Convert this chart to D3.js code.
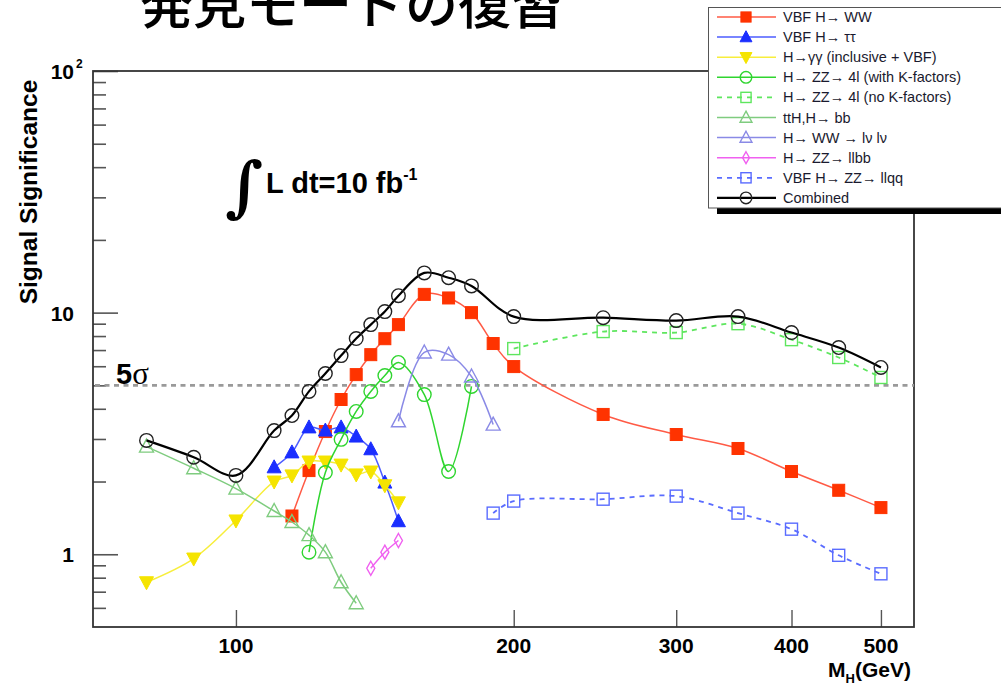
<!DOCTYPE html>
<html>
<head>
<meta charset="utf-8">
<script src="https://cdn.jsdelivr.net/npm/d3@7"></script>
<style>
  html, body { margin: 0; padding: 0; background: #fff; }
  svg { display: block; }
</style>
</head>
<body>
<svg id="chart" width="1001" height="688"></svg>
<script>
// Higgs discovery significance vs. mass, 10 fb^-1
const massVbfWW   = [115,120,125,130,135,140,145,150,160,170,180,190,200,250,300,350,400,450,500];
const sigVbfWW    = [1.44,2.22,3.22,4.37,5.54,6.70,7.80,8.92,11.9,11.5,10.0,7.45,5.98,3.79,3.13,2.74,2.20,1.84,1.56];

const massVbfTauTau = [110,115,120,125,130,135,140,145,150];
const sigVbfTauTau  = [2.29,2.64,3.35,3.25,3.35,3.07,2.72,1.98,1.37];

const massGamGam  = [80,90,100,110,115,120,125,130,135,140,145,150];
const sigGamGam   = [0.766,0.96,1.38,2.00,2.12,2.42,2.42,2.35,2.14,2.20,1.93,1.64];

const massZZ4lK   = [120,125,130,135,140,145,150,160,170,180];
const sigZZ4lK    = [1.02,2.18,2.99,3.90,4.72,5.49,6.22,4.58,2.20,4.95];

const massZZ4lNoK = [200,250,300,350,400,450,500];
const sigZZ4lNoK  = [7.10,8.35,8.27,9.00,7.73,6.52,5.39];

const massTtHbb   = [80,90,100,110,115,120,125,130,135];
const sigTtHbb    = [2.79,2.27,1.87,1.51,1.36,1.20,1.02,0.766,0.627];

const massWWlvlv  = [150,160,170,180,190];
const sigWWlvlv   = [3.55,6.84,6.70,5.44,3.44];

const massZZllbb  = [140,145,150];
const sigZZllbb   = [0.875,1.02,1.14];

const massZZllqq  = [190,200,250,300,350,400,450,500];
const sigZZllqq   = [1.48,1.66,1.69,1.74,1.48,1.27,0.99,0.83];

const massCombined = [80,90,100,110,115,120,125,130,135,140,145,150,160,170,180,200,250,300,350,400,450,500];
const sigCombined  = [2.96,2.52,2.12,3.25,3.75,4.72,5.60,6.64,7.81,8.92,10.1,11.75,14.6,13.95,12.9,9.63,9.53,9.27,9.63,8.27,7.17,5.93];

const xTickValues = [100,200,300,400,500];
const yMajorTicks = [1,10,100];
const yMinorTicks = [0.6,0.7,0.8,0.9,2,3,4,5,6,7,8,9,20,30,40,50,60,70,80,90];
const fiveSigma = 5;

const seriesNames = [
  "VBF H\u2192 WW",
  "VBF H\u2192 \u03c4\u03c4",
  "H\u2192\u03b3\u03b3 (inclusive + VBF)",
  "H\u2192 ZZ\u2192 4l (with K-factors)",
  "H\u2192 ZZ\u2192 4l (no K-factors)",
  "ttH,H\u2192 bb",
  "H\u2192 WW \u2192 l\u03bd l\u03bd",
  "H\u2192 ZZ\u2192 llbb",
  "VBF H\u2192 ZZ\u2192 llqq",
  "Combined"
];

// per-series styling
const series = [
  {mass: massVbfWW,     sig: sigVbfWW,     line: "#ff5a45", mark: "#ff3300", shape: "square",  filled: true,  dash: null, lw: 1.5},
  {mass: massVbfTauTau, sig: sigVbfTauTau, line: "#4d5cff", mark: "#1a2eff", shape: "triUp",   filled: true,  dash: null, lw: 1.5},
  {mass: massGamGam,    sig: sigGamGam,    line: "#f7ee3c", mark: "#f5e400", shape: "triDown", filled: true,  dash: null, lw: 1.5},
  {mass: massZZ4lK,     sig: sigZZ4lK,     line: "#2fd52f", mark: "#2fd52f", shape: "circle",  filled: false, dash: null, lw: 1.5},
  {mass: massZZ4lNoK,   sig: sigZZ4lNoK,   line: "#5ee65e", mark: "#5ee65e", shape: "square",  filled: false, dash: "5,5", lw: 1.8},
  {mass: massTtHbb,     sig: sigTtHbb,     line: "#7fcc7f", mark: "#7fcc7f", shape: "triUp",   filled: false, dash: null, lw: 1.5},
  {mass: massWWlvlv,    sig: sigWWlvlv,    line: "#8a8ae6", mark: "#8a8ae6", shape: "triUp",   filled: false, dash: null, lw: 1.5},
  {mass: massZZllbb,    sig: sigZZllbb,    line: "#f060f0", mark: "#f060f0", shape: "diamond", filled: false, dash: null, lw: 1.5},
  {mass: massZZllqq,    sig: sigZZllqq,    line: "#5a6cff", mark: "#5a6cff", shape: "square",  filled: false, dash: "5,5", lw: 1.8},
  {mass: massCombined,  sig: sigCombined,  line: "#000000", mark: "#222222", shape: "circle",  filled: false, dash: null, lw: 2.2}
];

const svg = d3.select("#chart");
const W = 1001, H = 688;
const plot = {left: 93, right: 914, top: 71, bottom: 627};

const x = d3.scaleLog().domain([70, 543]).range([plot.left, plot.right]);
const y = d3.scaleLog().domain([0.5, 100]).range([plot.bottom, plot.top]);

svg.append("rect").attr("width", W).attr("height", H).attr("fill", "#fff");

// page title (partly above the top edge)
svg.append("text")
  .attr("x", 140).attr("y", 24)
  .attr("font-family", "'Noto Sans CJK JP', 'Noto Sans CJK SC', sans-serif")
  .attr("font-size", 53).attr("font-weight", 500)
  .attr("fill", "#000")
  .text("発見モードの復習");

// clip for data
svg.append("defs").append("clipPath").attr("id", "plotClip")
  .append("rect").attr("x", plot.left).attr("y", plot.top)
  .attr("width", plot.right - plot.left).attr("height", plot.bottom - plot.top);

// y axis ticks (drawn inward)
svg.append("g").attr("transform", `translate(${plot.left},0)`)
  .call(d3.axisLeft(y).tickValues(yMinorTicks).tickSize(-13).tickFormat(""))
  .call(g => g.select(".domain").remove())
  .call(g => g.selectAll("line").attr("stroke", "#555").attr("stroke-width", 1.6));
svg.append("g").attr("transform", `translate(${plot.left},0)`)
  .call(d3.axisLeft(y).tickValues(yMajorTicks).tickSize(-25).tickFormat(""))
  .call(g => g.select(".domain").remove())
  .call(g => g.selectAll("line").attr("stroke", "#555").attr("stroke-width", 1.6));

// x axis ticks (drawn inward)
svg.append("g").attr("transform", `translate(0,${plot.bottom})`)
  .call(d3.axisBottom(x).tickValues(xTickValues).tickSize(-17).tickFormat(""))
  .call(g => g.select(".domain").remove())
  .call(g => g.selectAll("line").attr("stroke", "#555").attr("stroke-width", 1.4));

// frame
svg.append("rect")
  .attr("x", plot.left).attr("y", plot.top)
  .attr("width", plot.right - plot.left).attr("height", plot.bottom - plot.top)
  .attr("fill", "none").attr("stroke", "#333").attr("stroke-width", 1.8);

// tick labels
const labelFont = "'Liberation Sans', Arial, Helvetica, sans-serif";
svg.append("g").selectAll("text").data(xTickValues).join("text")
  .attr("x", d => x(d)).attr("y", 653)
  .attr("text-anchor", "middle")
  .attr("font-family", labelFont).attr("font-size", 21).attr("font-weight", "bold")
  .text(d => d);

const yLab = svg.append("g").attr("font-family", labelFont).attr("font-weight", "bold").attr("font-size", 21);
yMajorTicks.forEach(v => {
  const t = yLab.append("text").attr("x", 74).attr("y", y(v) + 8).attr("text-anchor", "end");
  if (v === 100) {
    t.text("10");
    yLab.append("text").attr("x", 76).attr("y", y(v) - 3).attr("font-size", 12).text("2");
  } else {
    t.text(String(v));
  }
});

// axis titles
svg.append("text")
  .attr("transform", `translate(37,${(plot.top + 313) / 2}) rotate(-90)`)
  .attr("text-anchor", "middle")
  .attr("font-family", labelFont).attr("font-size", 24.5).attr("font-weight", "bold")
  .text("Signal Significance");

const xt = svg.append("text")
  .attr("x", 911).attr("y", 677).attr("text-anchor", "end")
  .attr("font-family", labelFont).attr("font-size", 21).attr("font-weight", "bold");
xt.append("tspan").text("M");
xt.append("tspan").attr("font-size", 13).attr("dy", 6).text("H");
xt.append("tspan").attr("dy", -6).text("(GeV)");

// 5 sigma reference line
svg.append("line")
  .attr("x1", plot.left + 2).attr("x2", plot.right)
  .attr("y1", y(fiveSigma)).attr("y2", y(fiveSigma))
  .attr("stroke", "#9a9a9a").attr("stroke-width", 2.6).attr("stroke-dasharray", "5,4.5");
const sig5 = svg.append("text").attr("x", 116).attr("y", y(fiveSigma) - 1)
  .attr("font-size", 29).attr("font-weight", "bold");
sig5.append("tspan").attr("font-family", labelFont).text("5");
sig5.append("tspan").attr("font-family", "'Liberation Serif', 'DejaVu Serif', serif").attr("font-weight", "normal").attr("font-size", 31).text("\u03c3");

// luminosity label
svg.append("text").attr("x", 225).attr("y", 209)
  .attr("font-family", "'DejaVu Serif', serif").attr("font-size", 66).attr("font-weight", "bold")
  .text("\u222b");
const lum = svg.append("text").attr("x", 266).attr("y", 193)
  .attr("font-family", labelFont).attr("font-size", 29).attr("font-weight", "bold");
lum.append("tspan").text("L dt=10 fb");
lum.append("tspan").attr("font-size", 16).attr("dy", -13).text("-1");

// marker drawing
function drawMarker(g, shape, color, filled, size) {
  const s = size || 1;
  let el;
  if (shape === "square") {
    el = g.append("rect").attr("x", -6 * s).attr("y", -6 * s).attr("width", 12 * s).attr("height", 12 * s);
  } else if (shape === "circle") {
    el = g.append("circle").attr("r", 6.8 * s);
  } else if (shape === "triUp") {
    el = g.append("path").attr("d", `M0,${-7.5*s}L${7*s},${5.5*s}L${-7*s},${5.5*s}Z`);
  } else if (shape === "triDown") {
    el = g.append("path").attr("d", `M0,${7.5*s}L${7*s},${-5.5*s}L${-7*s},${-5.5*s}Z`);
  } else if (shape === "diamond") {
    el = g.append("path").attr("d", `M0,${-7*s}L${4*s},0L0,${7*s}L${-4*s},0Z`);
  }
  el.attr("fill", filled ? color : "none")
    .attr("stroke", color)
    .attr("stroke-width", filled ? 1 : 1.4);
}

const line = d3.line()
  .x(d => x(d[0])).y(d => y(d[1]))
  .curve(d3.curveCatmullRom.alpha(0.5));

const dataLayer = svg.append("g").attr("clip-path", "url(#plotClip)");
series.forEach(s => {
  const pts = s.mass.map((m, i) => [m, s.sig[i]]);
  const g = dataLayer.append("g");
  g.append("path").datum(pts)
    .attr("d", line)
    .attr("fill", "none")
    .attr("stroke", s.line)
    .attr("stroke-width", s.lw)
    .attr("stroke-dasharray", s.dash);
  pts.forEach(p => {
    const mg = g.append("g").attr("transform", `translate(${x(p[0])},${y(p[1])})`);
    drawMarker(mg, s.shape, s.mark, s.filled);
  });
});

// legend
const leg = svg.append("g");
leg.append("rect").attr("x", 717).attr("y", 208).attr("width", 300).attr("height", 6).attr("fill", "#000");
leg.append("rect").attr("x", 708.5).attr("y", 7.5).attr("width", 320).attr("height", 200.5)
  .attr("fill", "#fff").attr("stroke", "#555").attr("stroke-width", 1);
series.forEach((s, i) => {
  const cy = 17 + i * 20.1;
  leg.append("line").attr("x1", 717).attr("x2", 776).attr("y1", cy).attr("y2", cy)
    .attr("stroke", s.line).attr("stroke-width", s.lw)
    .attr("stroke-dasharray", s.dash);
  const mg = leg.append("g").attr("transform", `translate(746,${cy})`);
  drawMarker(mg, s.shape, s.mark, s.filled, 0.85);
  leg.append("text").attr("x", 783).attr("y", cy + 5)
    .attr("font-family", labelFont).attr("font-size", 14.5).attr("fill", "#1a1a2e")
    .text(seriesNames[i]);
});
</script>
</body>
</html>
